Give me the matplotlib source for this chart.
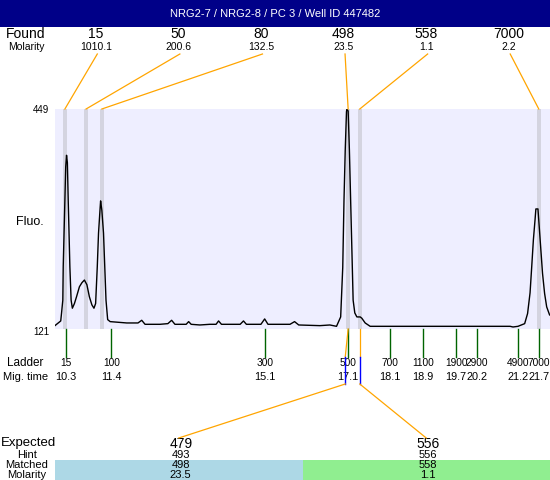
import matplotlib
matplotlib.use('Agg')
import matplotlib.pyplot as plt
import numpy as np
from matplotlib.patches import Rectangle

plt.rcParams['font.family'] = ['Liberation Sans', 'DejaVu Sans']

# ---------------- data ----------------
title = "NRG2-7 / NRG2-8 / PC 3 / Well ID 447482"

mig_time = [10.04, 10.18, 10.20, 10.23, 10.24, 10.26, 10.28, 10.30, 10.32, 10.34,
            10.36, 10.38, 10.40, 10.43, 10.46, 10.51, 10.56, 10.63, 10.69, 10.75,
            10.81, 10.87, 10.93, 10.98, 11.02, 11.06, 11.09, 11.13, 11.14, 11.17,
            11.21, 11.24, 11.27, 11.31, 11.37, 11.77, 12.04, 12.13, 12.21, 12.57,
            12.76, 12.85, 12.93, 13.20, 13.26, 13.32, 13.53, 13.77, 13.92, 13.98,
            14.05, 14.50, 14.58, 14.65, 15.00, 15.09, 15.17, 15.70, 15.81, 15.91,
            16.42, 16.66, 16.82, 16.92, 16.97, 17.00, 17.03, 17.06, 17.07, 17.10,
            17.13, 17.16, 17.19, 17.22, 17.26, 17.31, 17.39, 17.43, 17.51, 17.63,
            17.87, 18.35, 19.07, 19.80, 20.52, 21.00, 21.07, 21.19, 21.35, 21.42,
            21.48, 21.52, 21.56, 21.60, 21.62, 21.67, 21.70, 21.74, 21.78, 21.83,
            21.88, 21.95]
fluo = [126, 133, 145, 164, 214, 264, 313, 363, 380, 369,
        313, 264, 214, 164, 152, 159, 169, 184, 190, 194,
        187, 169, 157, 152, 159, 214, 264, 303, 312, 298,
        264, 214, 164, 135, 132, 130, 130, 134, 128, 128,
        129, 134, 128, 128, 132, 128, 127, 128, 128, 133,
        128, 128, 133, 128, 128, 136, 128, 128, 132, 127,
        126, 127, 125, 139, 213, 313, 388, 445, 449, 446,
        388, 313, 239, 164, 145, 139, 139, 137, 130, 125,
        125, 125, 125, 125, 125, 125, 124, 125, 129, 144,
        175, 214, 254, 284, 300, 300, 274, 239, 204, 174,
        154, 142]

found_sizes = ['15', '50', '80', '498', '558', '7000']
found_molarity = ['1010.1', '200.6', '132.5', '23.5', '1.1', '2.2']
found_times = [10.28, 10.79, 11.17, 17.10, 17.38, 21.69]

ladder_sizes = [15, 100, 300, 500, 700, 1100, 1900, 2900, 4900, 7000]
ladder_times = [10.3, 11.4, 15.1, 17.1, 18.1, 18.9, 19.7, 20.2, 21.2, 21.7]

expected = [479, 556]
hint = [493, 556]
matched = ['498', '558']
matched_molarity = ['23.5', '1.1']
matched_times = [17.10, 17.38]
matched_colors = ['#ADD8E6', '#90EE90']

y_min, y_max = 121, 449
x_min, x_max = 10.03, 21.96

# ---------------- layout ----------------
W, H = 550, 480
PL, PR, PT, PB = 54.5, 550, 109, 329  # plot box in pixels

fig = plt.figure(figsize=(W / 100, H / 100), dpi=100)
ax = fig.add_axes([PL / W, (H - PB) / H, (PR - PL) / W, (PB - PT) / H])
ax.set_facecolor('#EEEEFF')
ax.set_xlim(x_min, x_max)
ax.set_ylim(y_min, y_max)
for s in ax.spines.values():
    s.set_visible(False)
ax.set_xticks([])
ax.set_yticks([])

ov = fig.add_axes([0, 0, 1, 1], zorder=3)
ov.set_xlim(0, W)
ov.set_ylim(H, 0)
ov.axis('off')
ov.patch.set_alpha(0)

def to_px(t, y):
    d = ax.transData.transform((t, y))
    return ov.transData.inverted().transform(d)

orange = '#FFA500'
green = '#006400'

# peak bands and trace
for t in found_times:
    ax.axvspan(t - 0.048, t + 0.048, color='#D4D4E0', lw=0, zorder=1)
ax.plot(mig_time, fluo, color='black', lw=1.0, zorder=2)

# title bar
ov.add_patch(Rectangle((0, 0), W, 26.7, color='#000088', lw=0))
ov.text(W / 2, 14, title, color='white', fontsize=8, ha='center', va='center')

# y labels
ov.text(49, 110, str(y_max), fontsize=7, ha='right', va='center')
ov.text(49, 332, str(y_min), fontsize=7, ha='right', va='center')
ov.text(30, 222, 'Fluo.', fontsize=9, ha='center', va='center')

# found rows
ov.text(26, 34, 'Found', fontsize=10, ha='center', va='center')
ov.text(26, 47, 'Molarity', fontsize=7.5, ha='center', va='center')
n = len(found_sizes)
for i, (s, m, t) in enumerate(zip(found_sizes, found_molarity, found_times)):
    lx = PL + (PR - PL) * (i + 0.5) / n
    ov.text(lx, 34, s, fontsize=10, ha='center', va='center')
    ov.text(lx, 47, m, fontsize=7.5, ha='center', va='center')
    px, py = to_px(t, y_max)
    ov.plot([lx + 1.5, px], [54, PT], color=orange, lw=0.9)

# ladder
ov.text(25, 363, 'Ladder', fontsize=8.5, ha='center', va='center')
ov.text(26, 377.5, 'Mig. time', fontsize=8, ha='center', va='center')
for s, t in zip(ladder_sizes, ladder_times):
    px, _ = to_px(t, y_min)
    ov.plot([px, px], [PB, 357], color=green, lw=1.0, zorder=1)
    ov.text(px, 363, str(s), fontsize=7.3, ha='center', va='center')
    ov.text(px, 377.5, f'{t:.1f}', fontsize=7.8, ha='center', va='center')

# expected / matched table
col_l = 55
col_w = (W - col_l) / len(expected)
ov.text(1, 443, 'Expected', fontsize=9.5, ha='left', va='center')
ov.text(27, 455, 'Hint', fontsize=8, ha='center', va='center')
ov.text(27, 465.5, 'Matched', fontsize=8, ha='center', va='center')
ov.text(27, 474.5, 'Molarity', fontsize=8, ha='center', va='center')
for i in range(len(expected)):
    cx = col_l + col_w * (i + 0.5)
    ov.add_patch(Rectangle((col_l + col_w * i, 460), col_w, 20,
                           color=matched_colors[i], lw=0, zorder=0))
    ov.text(cx + 2, 444, str(expected[i]), fontsize=10, ha='center', va='center')
    ov.text(cx + 2, 455, str(hint[i]), fontsize=8, ha='center', va='center')
    ov.text(cx + 2, 465.5, matched[i], fontsize=8, ha='center', va='center')
    ov.text(cx + 2, 474.5, matched_molarity[i], fontsize=8, ha='center', va='center')
    ht = np.interp(hint[i], ladder_sizes, ladder_times)
    hx, _ = to_px(ht, y_min)
    mx, _ = to_px(matched_times[i], y_min)
    ov.plot([mx, hx], [PB, 357], color=orange, lw=0.9, zorder=4)
    ov.plot([hx, hx], [357, 384], color='blue', lw=1.0, zorder=4)
    ov.plot([hx, cx], [384, 438], color=orange, lw=0.9, zorder=4)

fig.savefig('out.png', dpi=100)
